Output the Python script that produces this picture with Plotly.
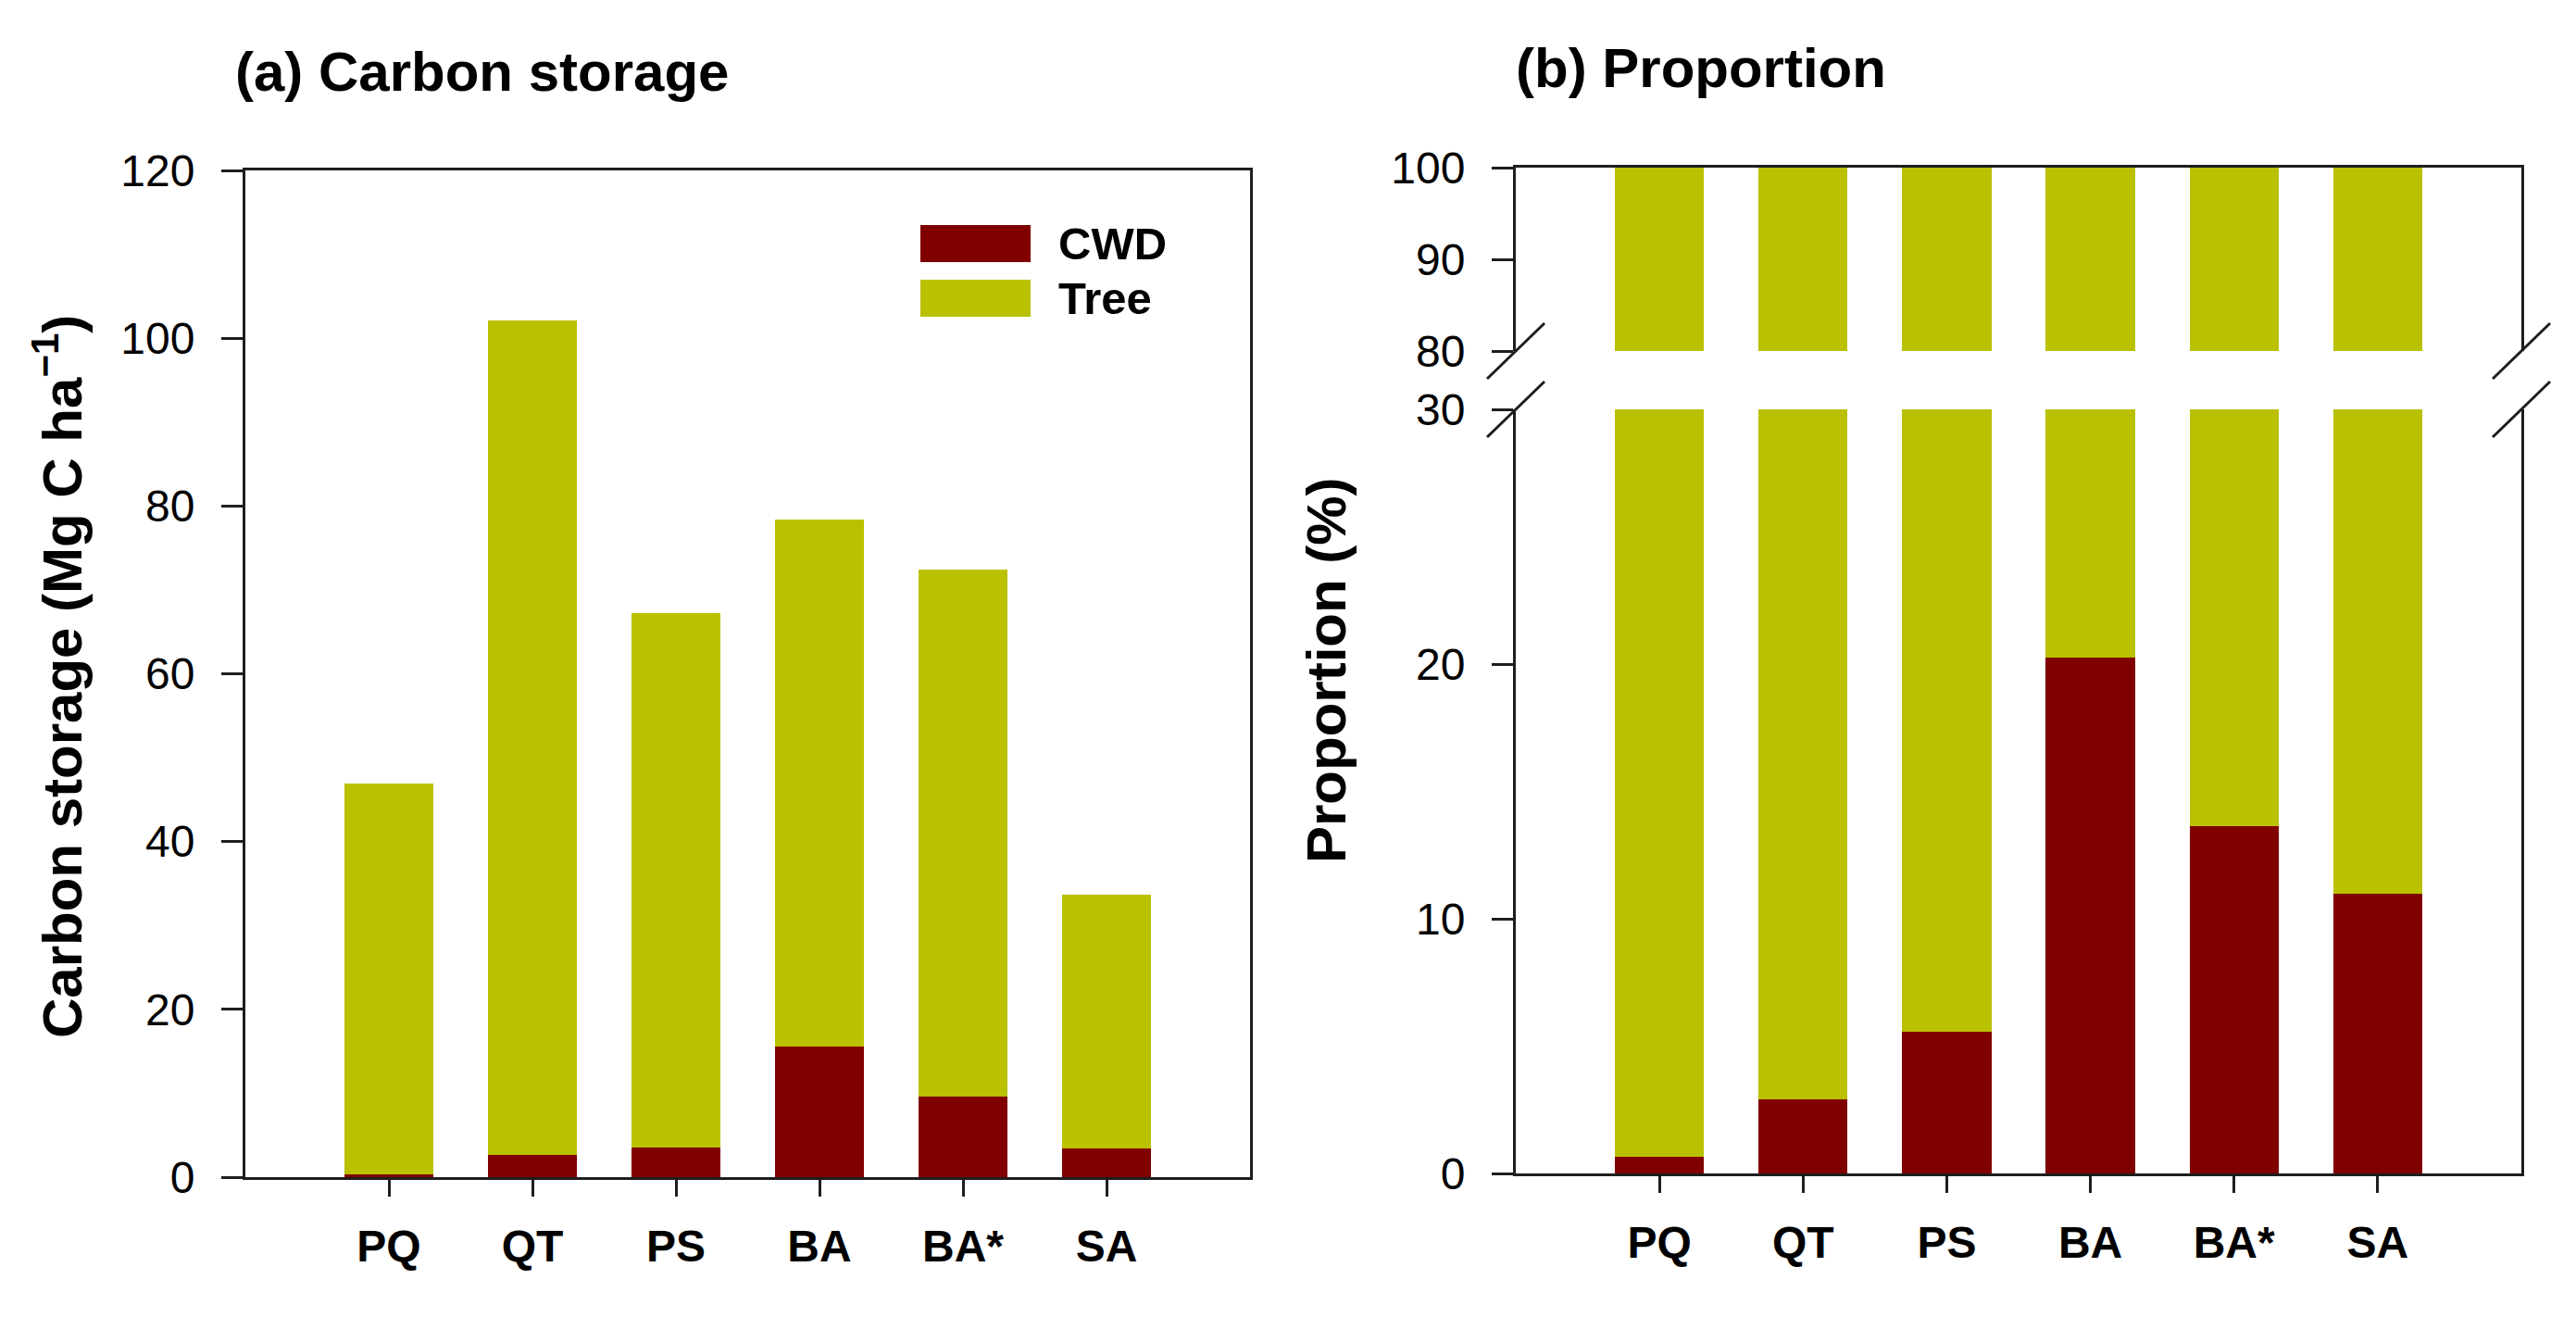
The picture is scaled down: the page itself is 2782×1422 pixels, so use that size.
import plotly.graph_objects as go

# ---------------- data ----------------
categories = ["PQ", "QT", "PS", "BA", "BA*", "SA"]
cwd_storage = [0.3, 2.7, 3.5, 15.6, 9.6, 3.4]          # Mg C ha-1
tree_storage = [46.6, 99.4, 63.7, 62.8, 62.8, 30.3]     # Mg C ha-1
cwd_prop = [0.66, 2.9, 5.57, 20.26, 13.64, 10.97]       # %
tree_prop = [99.34, 97.1, 94.43, 79.74, 86.36, 89.03]   # %

left_yticks = [0, 20, 40, 60, 80, 100, 120]
lower_yticks = [0, 10, 20, 30]
upper_yticks = [80, 90, 100]

# ---------------- style ----------------
W, H = 2782, 1422
OFF = 8  # page body margin compensation
C_CWD = "#800000"
C_TREE = "#B9C100"
LINE = "#1e1e1e"
FONT = "Liberation Sans, Arial, sans-serif"
BAR_W = 0.62


def px(x):
    return (x - OFF) / W


def py(y):
    return 1 - (y - OFF) / H


fig = go.Figure()

# left panel
fig.add_trace(go.Bar(x=categories, y=cwd_storage, name="CWD", marker_color=C_CWD,
                     marker_line_width=0, width=BAR_W, xaxis="x", yaxis="y"))
fig.add_trace(go.Bar(x=categories, y=tree_storage, name="Tree", marker_color=C_TREE,
                     marker_line_width=0, width=BAR_W, xaxis="x", yaxis="y"))
# right panel, lower and upper segments (broken axis)
for xa, ya in (("x2", "y2"), ("x3", "y3")):
    fig.add_trace(go.Bar(x=categories, y=cwd_prop, name="CWD", marker_color=C_CWD,
                         marker_line_width=0, width=BAR_W, xaxis=xa, yaxis=ya,
                         showlegend=False))
    fig.add_trace(go.Bar(x=categories, y=tree_prop, name="Tree", marker_color=C_TREE,
                         marker_line_width=0, width=BAR_W, xaxis=xa, yaxis=ya,
                         showlegend=False))

tickfont = dict(family=FONT, size=48, color="black")
xtickfont = dict(family=FONT, size=48, color="black", weight="bold")

common_x = dict(type="category", range=[-1, 6], showline=True, linewidth=3,
                linecolor=LINE, ticks="outside", ticklen=18, tickwidth=3,
                tickcolor=LINE, tickfont=xtickfont, showgrid=False, zeroline=False,
                ticklabelstandoff=12, fixedrange=True, automargin=False)
common_y = dict(showline=True, linewidth=3, linecolor=LINE, mirror=True,
                ticks="outside", ticklen=23, tickwidth=3, tickcolor=LINE,
                tickfont=tickfont, showgrid=False, zeroline=False,
                ticklabelstandoff=19, fixedrange=True, automargin=False)

left_dom_x = [px(265), px(1350)]
right_dom_x = [px(1637), px(2723)]

fig.update_layout(
    template="none",
    width=W, height=H, margin=dict(l=0, r=0, t=0, b=0, pad=0, autoexpand=False),
    autosize=False,
    paper_bgcolor="white", plot_bgcolor="white", barmode="stack",
    showlegend=False, font=dict(family=FONT, color="black"),
    xaxis=dict(common_x, domain=left_dom_x, anchor="y", mirror=True),
    yaxis=dict(common_y, domain=[py(1271), py(184)], anchor="x", range=[0, 120],
               tickvals=left_yticks),
    xaxis2=dict(common_x, domain=right_dom_x, anchor="y2"),
    yaxis2=dict(common_y, domain=[py(1267), py(442)], anchor="x2", range=[0, 30],
                tickvals=lower_yticks),
    xaxis3=dict(common_x, domain=right_dom_x, anchor="y3", side="top", ticks="",
                showticklabels=False),
    yaxis3=dict(common_y, domain=[py(379), py(181)], anchor="x3", range=[80, 100],
                tickvals=upper_yticks),
)

# titles and axis titles
ann = []
ann.append(dict(text="<b>(a) Carbon storage</b>", x=px(252), y=py(78), xref="paper",
                yref="paper", xanchor="left", yanchor="middle", showarrow=False,
                font=dict(family=FONT, size=60, color="black")))
ann.append(dict(text="<b>(b) Proportion</b>", x=px(1635), y=py(74), xref="paper",
                yref="paper", xanchor="left", yanchor="middle", showarrow=False,
                font=dict(family=FONT, size=60, color="black")))
ann.append(dict(text="<b>Carbon storage (Mg C ha<sup>−1</sup>)</b>", x=px(63), y=py(731),
                xref="paper", yref="paper", xanchor="center", yanchor="middle",
                textangle=-90, showarrow=False,
                font=dict(family=FONT, size=60, color="black")))
ann.append(dict(text="<b>Proportion (%)</b>", x=px(1432), y=py(724),
                xref="paper", yref="paper", xanchor="center", yanchor="middle",
                textangle=-90, showarrow=False,
                font=dict(family=FONT, size=60, color="black")))
# legend labels
ann.append(dict(text="<b>CWD</b>", x=px(1141), y=py(263), xref="paper", yref="paper",
                xanchor="left", yanchor="middle", showarrow=False,
                font=dict(family=FONT, size=49, color="black")))
ann.append(dict(text="<b>Tree</b>", x=px(1141), y=py(322), xref="paper", yref="paper",
                xanchor="left", yanchor="middle", showarrow=False,
                font=dict(family=FONT, size=49, color="black")))
fig.update_layout(annotations=ann)

shapes = []
# legend swatches
shapes.append(dict(type="rect", xref="paper", yref="paper", x0=px(994), x1=px(1113),
                   y0=py(283), y1=py(243), fillcolor=C_CWD, line_width=0))
shapes.append(dict(type="rect", xref="paper", yref="paper", x0=px(994), x1=px(1113),
                   y0=py(342), y1=py(302), fillcolor=C_TREE, line_width=0))
# axis-break marks
for cx in (1637, 2723):
    for cy in (379, 442):
        shapes.append(dict(type="line", xref="paper", yref="paper",
                           x0=px(cx - 31), y0=py(cy + 30), x1=px(cx + 31), y1=py(cy - 30),
                           line=dict(color=LINE, width=3)))
fig.update_layout(shapes=shapes)

fig.write_html("out.html")
